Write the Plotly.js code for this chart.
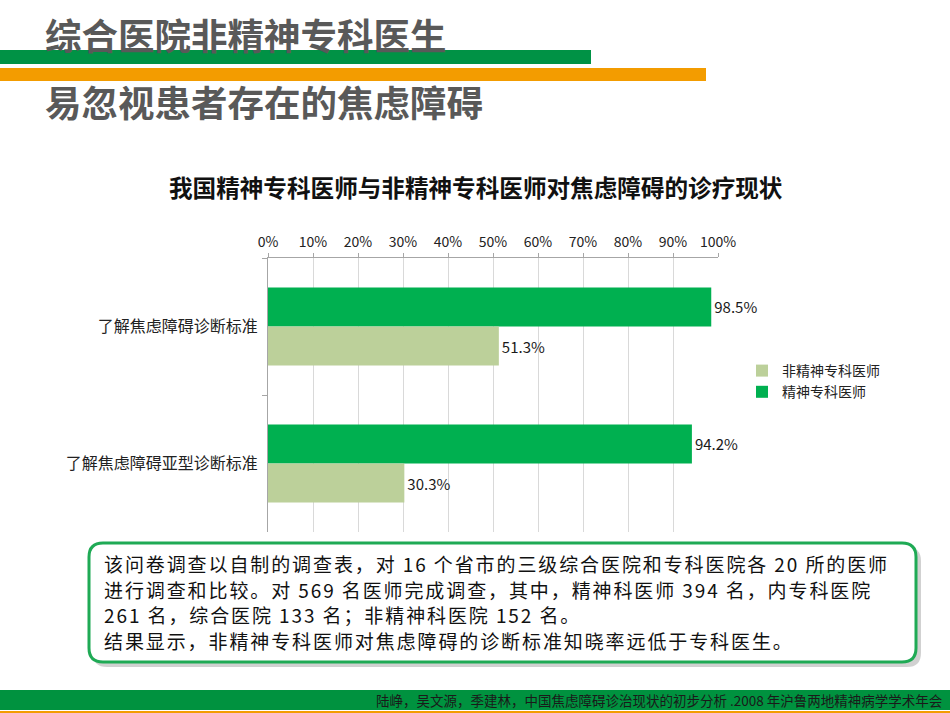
<!DOCTYPE html>
<html>
<head>
<meta charset="utf-8">
<script src="https://cdn.plot.ly/plotly-3.0.1.min.js"></script>
<style>
html,body{margin:0;padding:0;background:#fff;}
#chart{width:950px;height:713px;}
text.annotation-text[style*="font-size: 19px"]{letter-spacing:1.9px;}
</style>
</head>
<body>
<div id="chart"></div>
<script>
// ---- data ----
const categories = ['了解焦虑障碍诊断标准', '了解焦虑障碍亚型诊断标准'];
const psychiatrists = [98.5, 94.2];      // 精神专科医师
const nonPsychiatrists = [51.3, 30.3];   // 非精神专科医师
const seriesNames = ['精神专科医师', '非精神专科医师'];
const xTickVals = [0, 10, 20, 30, 40, 50, 60, 70, 80, 90, 100];
const xTickText = ['0%', '10%', '20%', '30%', '40%', '50%', '60%', '70%', '80%', '90%', '100%'];
const pageTitle1 = '综合医院非精神专科医生';
const pageTitle2 = '易忽视患者存在的焦虑障碍';
const chartTitle = '我国精神专科医师与非精神专科医师对焦虑障碍的诊疗现状';
const noteLines = [
  '该问卷调查以自制的调查表，对 16 个省市的三级综合医院和专科医院各 20 所的医师',
  '进行调查和比较。对 569 名医师完成调查，其中，精神科医师 394 名，内专科医院',
  '261 名，综合医院 133 名；非精神科医院 152 名。',
  '结果显示，非精神专科医师对焦虑障碍的诊断标准知晓率远低于专科医生。'
];
const footerText = '陆峥，吴文源，季建林，中国焦虑障碍诊治现状的初步分析 .2008 年沪鲁两地精神病学学术年会';

// ---- layout helpers (pixel -> paper) ----
const W = 950, H = 713;
const L = 268, R = 718, T = 258, B = 532;
const px = x => (x - L) / (R - L);
const py = y => (B - y) / (B - T);
const FONT = '"Noto Sans CJK SC", "Noto Sans", sans-serif';

function rectShape(x0, y0, x1, y1, color, extra) {
  return Object.assign({type: 'rect', xref: 'paper', yref: 'paper',
    x0: px(x0), x1: px(x1), y0: py(y1), y1: py(y0),
    fillcolor: color, line: {width: 0}, layer: 'above'}, extra || {});
}
function roundRectPath(x0, y0, x1, y1, r) {
  const p = (x, y) => px(x) + ',' + py(y);
  return 'M' + p(x0 + r, y0) + ' L' + p(x1 - r, y0) + ' Q' + p(x1, y0) + ' ' + p(x1, y0 + r) +
    ' L' + p(x1, y1 - r) + ' Q' + p(x1, y1) + ' ' + p(x1 - r, y1) +
    ' L' + p(x0 + r, y1) + ' Q' + p(x0, y1) + ' ' + p(x0, y1 - r) +
    ' L' + p(x0, y0 + r) + ' Q' + p(x0, y0) + ' ' + p(x0 + r, y0) + ' Z';
}

const traces = [
  {type: 'bar', orientation: 'h', name: seriesNames[0], y: categories, x: psychiatrists,
   marker: {color: '#00b050'}, text: psychiatrists.map(v => v.toFixed(1) + '%'),
   textposition: 'outside', cliponaxis: false, hoverinfo: 'x+name',
   textfont: {family: FONT, size: 15, color: '#1a1a1a'}},
  {type: 'bar', orientation: 'h', name: seriesNames[1], y: categories, x: nonPsychiatrists,
   marker: {color: '#bcd09a'}, text: nonPsychiatrists.map(v => v.toFixed(1) + '%'),
   textposition: 'outside', cliponaxis: false, hoverinfo: 'x+name',
   textfont: {family: FONT, size: 15, color: '#1a1a1a'}}
];

const shapes = [
  // header bars
  rectShape(0, 50, 591, 64, '#009245'),
  rectShape(0, 68, 706, 81, '#f39c00'),
  // footer bars
  rectShape(0, 690, 950, 710, '#00923f'),
  rectShape(0, 711, 950, 713, '#f39c00'),
  // note box shadow + box
  {type: 'path', xref: 'paper', yref: 'paper', path: roundRectPath(93, 547, 921, 667, 14),
   fillcolor: 'rgba(0,0,0,0.18)', line: {width: 0}, layer: 'above'},
  {type: 'path', xref: 'paper', yref: 'paper', path: roundRectPath(89, 543, 916, 662, 14),
   fillcolor: '#ffffff', line: {color: '#1faa55', width: 3}, layer: 'above'}
];

const annotations = [
  {text: '<b>' + pageTitle1 + '</b>', x: px(43), y: py(34), xanchor: 'left', yanchor: 'middle',
   font: {family: FONT, size: 36.5, color: '#595959'}},
  {text: '<b>' + pageTitle2 + '</b>', x: px(43), y: py(101), xanchor: 'left', yanchor: 'middle',
   font: {family: FONT, size: 36.5, color: '#595959'}},
  {text: '<b>' + chartTitle + '</b>', x: px(476), y: py(187), xanchor: 'center', yanchor: 'middle',
   font: {family: FONT, size: 23.6, color: '#111111'}},
  {text: footerText, x: px(944), y: py(700), xanchor: 'right', yanchor: 'middle',
   font: {family: FONT, size: 13.5, color: '#1a1a1a'}}
];
const lineY = [563, 589, 614, 640];
noteLines.forEach((t, i) => annotations.push({
  text: t, x: px(102), y: py(lineY[i]), xanchor: 'left', yanchor: 'middle',
  font: {family: FONT, size: 19, color: '#111111'}
}));
annotations.forEach(a => { a.xref = 'paper'; a.yref = 'paper'; a.showarrow = false; });

const layout = {
  width: W, height: H,
  margin: {l: L, r: W - R, t: T, b: H - B, pad: 0},
  paper_bgcolor: '#ffffff', plot_bgcolor: '#ffffff',
  font: {family: FONT, color: '#222222'},
  barmode: 'group', bargap: 0.43, bargroupgap: 0,
  showlegend: true,
  legend: {x: px(742), y: py(355), xanchor: 'left', yanchor: 'top', traceorder: 'reversed',
           font: {family: FONT, size: 14, color: '#222222'}, bgcolor: 'rgba(0,0,0,0)',
           itemwidth: 30, tracegroupgap: 2},
  xaxis: {side: 'top', range: [0, 100], tickvals: xTickVals, ticktext: xTickText,
          showgrid: true, gridcolor: '#d9d9d9', gridwidth: 1, zeroline: false,
          showline: true, linecolor: '#a6a6a6', linewidth: 1,
          ticks: 'outside', ticklen: 4, tickcolor: '#a6a6a6',
          tickfont: {family: FONT, size: 14, color: '#222222'}, fixedrange: true},
  yaxis: {autorange: 'reversed', showline: true, linecolor: '#a6a6a6', linewidth: 1,
          ticks: 'outside', tickson: 'boundaries', ticklen: 5, tickcolor: '#a6a6a6',
          showgrid: false, ticklabelstandoff: 6,
          tickfont: {family: FONT, size: 16, color: '#222222'}, fixedrange: true},
  shapes: shapes,
  annotations: annotations
};

Plotly.newPlot('chart', traces, layout, {displayModeBar: false, staticPlot: true});
</script>
</body>
</html>
